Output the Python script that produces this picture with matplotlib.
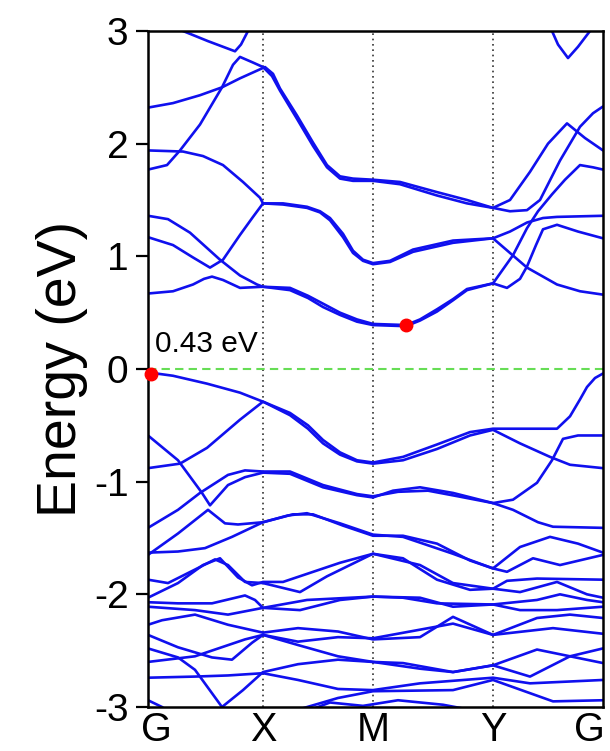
import numpy as np
import matplotlib
matplotlib.use("Agg")
from matplotlib import pyplot as plt
from matplotlib import transforms

# high symmetry points along the path (k in arbitrary path units)
kpath_labels = ["G", "X", "M", "Y", "G"]
kpath_pos = [0.0, 1.15, 2.25, 3.45, 4.55]

# band energies (eV), as (k, E) pairs
# --- conduction bands ---
cb1 = [(0.00, 0.67), (0.25, 0.69), (0.45, 0.75), (0.56, 0.80), (0.64, 0.82), (0.75, 0.79), (0.92, 0.72),
       (1.15, 0.73), (1.42, 0.70), (1.60, 0.63), (1.75, 0.55), (1.92, 0.48), (2.09, 0.42), (2.25, 0.39),
       (2.58, 0.38), (2.72, 0.43), (2.89, 0.51), (3.05, 0.61), (3.19, 0.70), (3.45, 0.76), (3.59, 0.72),
       (3.72, 0.80), (3.79, 0.91), (3.88, 1.10), (3.95, 1.24), (4.09, 1.28), (4.30, 1.22), (4.55, 1.16)]
cb2 = [(0.00, 1.36), (0.20, 1.33), (0.42, 1.21), (0.72, 0.97), (0.92, 0.83), (1.09, 0.75), (1.15, 0.73),
       (1.42, 0.72), (1.60, 0.65), (1.75, 0.58), (1.92, 0.50), (2.09, 0.44), (2.25, 0.40), (2.58, 0.39),
       (2.72, 0.44), (2.89, 0.53), (3.05, 0.62), (3.19, 0.71), (3.45, 0.76), (3.65, 1.01), (3.79, 1.25),
       (3.90, 1.40), (4.04, 1.55), (4.17, 1.68), (4.32, 1.81), (4.45, 1.79), (4.55, 1.77)]
cb3 = [(0.00, 1.17), (0.25, 1.10), (0.45, 0.99), (0.62, 0.90), (0.75, 0.97), (0.92, 1.19), (1.05, 1.35),
       (1.15, 1.47), (1.35, 1.46), (1.59, 1.43), (1.72, 1.39), (1.82, 1.32), (1.95, 1.17), (2.05, 1.03),
       (2.15, 0.96), (2.25, 0.93), (2.42, 0.95), (2.65, 1.04), (3.05, 1.12), (3.45, 1.16), (3.62, 1.03),
       (3.79, 0.90), (4.09, 0.75), (4.32, 0.69), (4.55, 0.66)]
cb4 = [(0.00, 1.94), (0.35, 1.93), (0.55, 1.89), (0.75, 1.81), (0.95, 1.66), (1.12, 1.52), (1.15, 1.47),
       (1.35, 1.47), (1.59, 1.44), (1.72, 1.40), (1.82, 1.34), (1.95, 1.20), (2.05, 1.05), (2.15, 0.97),
       (2.25, 0.94), (2.42, 0.96), (2.65, 1.06), (3.05, 1.14), (3.45, 1.16), (3.62, 1.22), (3.79, 1.30),
       (3.95, 1.34), (4.09, 1.35), (4.55, 1.36)]
cb5 = [(0.00, 2.32), (0.25, 2.36), (0.52, 2.43), (0.74, 2.50), (0.92, 2.58), (1.17, 2.68), (1.25, 2.62),
       (1.32, 2.49), (1.49, 2.25), (1.65, 2.01), (1.79, 1.81), (1.92, 1.71), (2.05, 1.69), (2.25, 1.68),
       (2.52, 1.66), (2.89, 1.57), (3.19, 1.50), (3.45, 1.43), (3.62, 1.40), (3.79, 1.41), (3.92, 1.50),
       (4.12, 1.85), (4.32, 2.15), (4.45, 2.27), (4.55, 2.33)]
cb6 = [(0.00, 1.77), (0.19, 1.81), (0.32, 1.94), (0.52, 2.17), (0.74, 2.50), (0.85, 2.70), (0.92, 2.77),
       (1.05, 2.72), (1.15, 2.68), (1.24, 2.60), (1.32, 2.47), (1.49, 2.22), (1.65, 1.98), (1.79, 1.79),
       (1.92, 1.69), (2.05, 1.67), (2.25, 1.67), (2.52, 1.64), (2.89, 1.54), (3.19, 1.47), (3.45, 1.43),
       (3.62, 1.50), (3.82, 1.75), (4.00, 2.00), (4.19, 2.18), (4.37, 2.05), (4.55, 1.94)]
cb7 = [(0.20, 3.12), (0.35, 3.00), (0.60, 2.91), (0.87, 2.82), (0.93, 2.88), (1.00, 3.00), (1.05, 3.10)]
cb8 = [(3.98, 3.12), (4.04, 3.00), (4.10, 2.88), (4.20, 2.76), (4.30, 2.86), (4.42, 3.00), (4.48, 3.10)]

# --- valence bands ---
vb1 = [(0.00, -0.03), (0.25, -0.06), (0.59, -0.13), (0.92, -0.21), (1.15, -0.29), (1.42, -0.39),
       (1.60, -0.50), (1.75, -0.63), (1.92, -0.74), (2.09, -0.81), (2.25, -0.83), (2.55, -0.78),
       (2.89, -0.67), (3.22, -0.56), (3.45, -0.53), (3.70, -0.53), (4.09, -0.53), (4.22, -0.42),
       (4.32, -0.27), (4.39, -0.16), (4.47, -0.08), (4.55, -0.04)]
vb2 = [(0.00, -0.88), (0.32, -0.84), (0.59, -0.70), (0.92, -0.45), (1.15, -0.29), (1.42, -0.41),
       (1.60, -0.53), (1.75, -0.66), (1.92, -0.76), (2.09, -0.82), (2.25, -0.84), (2.55, -0.81),
       (2.89, -0.71), (3.22, -0.59), (3.45, -0.54), (3.72, -0.66), (4.02, -0.78), (4.22, -0.85),
       (4.55, -0.88)]
vb3 = [(0.00, -0.59), (0.30, -0.81), (0.54, -1.10), (0.62, -1.21), (0.80, -1.03), (0.97, -0.96),
       (1.15, -0.92), (1.42, -0.93), (1.75, -1.05), (2.09, -1.12), (2.25, -1.14), (2.45, -1.08),
       (2.72, -1.05), (3.05, -1.10), (3.45, -1.19), (3.65, -1.16), (3.89, -1.01), (4.04, -0.81),
       (4.15, -0.62), (4.30, -0.59), (4.55, -0.59)]
vb4 = [(0.00, -1.41), (0.30, -1.25), (0.52, -1.10), (0.80, -0.94), (0.97, -0.90), (1.15, -0.91),
       (1.42, -0.91), (1.75, -1.03), (2.09, -1.11), (2.25, -1.13), (2.50, -1.09), (2.80, -1.08),
       (3.10, -1.13), (3.45, -1.19), (3.65, -1.25), (3.90, -1.36), (4.05, -1.40), (4.55, -1.41)]
vb5 = [(0.00, -1.65), (0.30, -1.46), (0.60, -1.25), (0.77, -1.37), (0.90, -1.38), (1.15, -1.36),
       (1.40, -1.30), (1.59, -1.28), (1.92, -1.37), (2.25, -1.47), (2.55, -1.49), (3.05, -1.64),
       (3.45, -1.77), (3.59, -1.80), (3.85, -1.68), (4.12, -1.74), (4.55, -1.65)]
vb6 = [(0.00, -1.63), (0.30, -1.62), (0.57, -1.59), (0.84, -1.49), (1.15, -1.36), (1.45, -1.29),
       (1.65, -1.29), (1.95, -1.39), (2.25, -1.48), (2.55, -1.48), (2.89, -1.55), (3.22, -1.70),
       (3.45, -1.77), (3.72, -1.58), (4.02, -1.49), (4.30, -1.55), (4.55, -1.63)]
vb7 = [(0.00, -1.87), (0.20, -1.90), (0.47, -1.78), (0.67, -1.69), (0.80, -1.74), (0.97, -1.89),
       (1.15, -1.90), (1.52, -1.98), (1.79, -1.84), (2.25, -1.64), (2.55, -1.68), (2.89, -1.87),
       (3.22, -1.96), (3.45, -1.95), (3.59, -1.88), (3.89, -1.86), (4.55, -1.87)]
vb8 = [(0.00, -2.03), (0.30, -1.90), (0.55, -1.74), (0.72, -1.68), (0.90, -1.85), (1.04, -1.92),
       (1.15, -1.89), (1.35, -1.89), (1.92, -1.72), (2.25, -1.64), (2.72, -1.74), (3.05, -1.90),
       (3.45, -1.95), (3.72, -1.98), (4.09, -1.89), (4.39, -2.00), (4.55, -2.03)]
vb9 = [(0.00, -2.07), (0.30, -2.08), (0.64, -2.08), (0.97, -2.01), (1.07, -2.05), (1.15, -2.12),
       (1.52, -2.14), (1.92, -2.05), (2.25, -2.02), (2.72, -2.03), (3.05, -2.11), (3.45, -2.09),
       (3.72, -2.14), (4.09, -2.14), (4.55, -2.11)]
vb10 = [(0.00, -2.11), (0.47, -2.14), (0.80, -2.18), (1.15, -2.12), (1.59, -2.05), (2.25, -2.02),
        (2.55, -2.03), (2.89, -2.08), (3.45, -2.09), (3.89, -2.05), (4.12, -2.00), (4.39, -2.05),
        (4.55, -2.07)]
vb11 = [(0.00, -2.27), (0.14, -2.23), (0.47, -2.18), (0.80, -2.27), (1.15, -2.34), (1.50, -2.30),
        (1.90, -2.33), (2.25, -2.40), (2.72, -2.38), (3.05, -2.20), (3.45, -2.36), (3.89, -2.21),
        (4.22, -2.18), (4.55, -2.21)]
vb12 = [(0.00, -2.36), (0.30, -2.47), (0.64, -2.56), (0.84, -2.58), (1.04, -2.43), (1.15, -2.36),
        (1.50, -2.42), (1.90, -2.38), (2.25, -2.39), (3.05, -2.26), (3.45, -2.36), (4.05, -2.30),
        (4.55, -2.35)]
vb13 = [(0.00, -2.48), (0.30, -2.56), (0.47, -2.67), (0.74, -3.00), (0.95, -2.85), (1.15, -2.69),
        (1.50, -2.62), (1.90, -2.58), (2.25, -2.60), (2.72, -2.66), (3.05, -2.69), (3.45, -2.63),
        (3.89, -2.49), (4.55, -2.61)]
vb14 = [(0.00, -2.60), (0.47, -2.55), (0.97, -2.40), (1.15, -2.36), (1.50, -2.45), (1.90, -2.55),
        (2.25, -2.60), (2.55, -2.61), (3.05, -2.69), (3.45, -2.63), (3.82, -2.73), (4.22, -2.55),
        (4.55, -2.48)]
vb15 = [(0.00, -2.74), (0.47, -2.73), (0.80, -2.72), (1.15, -2.70), (1.50, -2.76), (1.90, -2.84),
        (2.25, -2.85), (2.72, -2.79), (3.45, -2.74), (3.82, -2.79), (4.55, -2.76)]
vb16 = [(0.00, -2.94), (0.14, -3.00), (0.30, -3.10)]
vb17 = [(1.40, -3.05), (1.90, -2.92), (2.25, -2.86), (3.05, -2.85), (3.45, -2.76), (4.05, -2.95),
        (4.55, -2.94)]
vb18 = [(1.55, -3.05), (1.82, -2.96), (2.15, -2.99), (2.50, -2.94), (2.95, -2.98), (3.25, -3.03)]

bands = [cb1, cb2, cb3, cb4, cb5, cb6, cb7, cb8,
         vb1, vb2, vb3, vb4, vb5, vb6, vb7, vb8, vb9, vb10, vb11, vb12, vb13, vb14, vb15, vb16,
         vb17, vb18]

# band edges (VBM at G, CBM between M and Y)
vbm = (0.03, -0.04)
cbm = (2.58, 0.39)
gap_text = "0.43 eV"

plt.rcParams['font.family'] = ['Liberation Sans', 'DejaVu Sans']

fig = plt.figure(figsize=(6.10, 7.51), dpi=100)
ax = fig.add_axes([148/610, 1 - 707/751, 455/610, 676/751])

for b in bands:
    b = np.array(b)
    ax.plot(b[:, 0], b[:, 1], color='#1010ee', lw=1.9, solid_joinstyle='round',
            solid_capstyle='round', zorder=2)

# k-point separators and Fermi level
for kp in kpath_pos[1:-1]:
    ax.axvline(kp, color='#333333', lw=1.2, ls=(0, (1, 2.2)), zorder=1)
ax.axhline(0, color='#66dd55', lw=1.5, ls=(0, (4, 2.5)), zorder=1)

ax.plot(*vbm, 'o', color='red', ms=9, zorder=5, clip_on=False)
ax.plot(*cbm, 'o', color='red', ms=9, zorder=5)
ax.text(0.07, 0.15, gap_text, fontsize=21.5)

ax.set_xlim(kpath_pos[0], kpath_pos[-1])
ax.set_ylim(-3, 3)
ax.set_xticks(kpath_pos)
ax.set_xticklabels(kpath_labels, fontsize=28.5)
ax.set_yticks([-3, -2, -1, 0, 1, 2, 3])
ax.set_yticklabels(['-3', '-2', '-1', '0', '1', '2', '3'], fontsize=28)
ax.tick_params(axis='x', length=0, pad=3)
ax.tick_params(axis='y', direction='out', length=9, width=1.6, pad=5)
ax.set_ylabel("Energy (eV)", fontsize=40, labelpad=4)
for s in ax.spines.values():
    s.set_linewidth(1.8)

# end labels sit inside the frame like in the original
xl = ax.get_xticklabels()
xl[0].set_transform(xl[0].get_transform() + transforms.ScaledTranslation(8/100, 0, fig.dpi_scale_trans))
xl[-1].set_horizontalalignment('right')
xl[-1].set_transform(xl[-1].get_transform() + transforms.ScaledTranslation(2/100, 0, fig.dpi_scale_trans))

fig.savefig("out.png", dpi=100)
